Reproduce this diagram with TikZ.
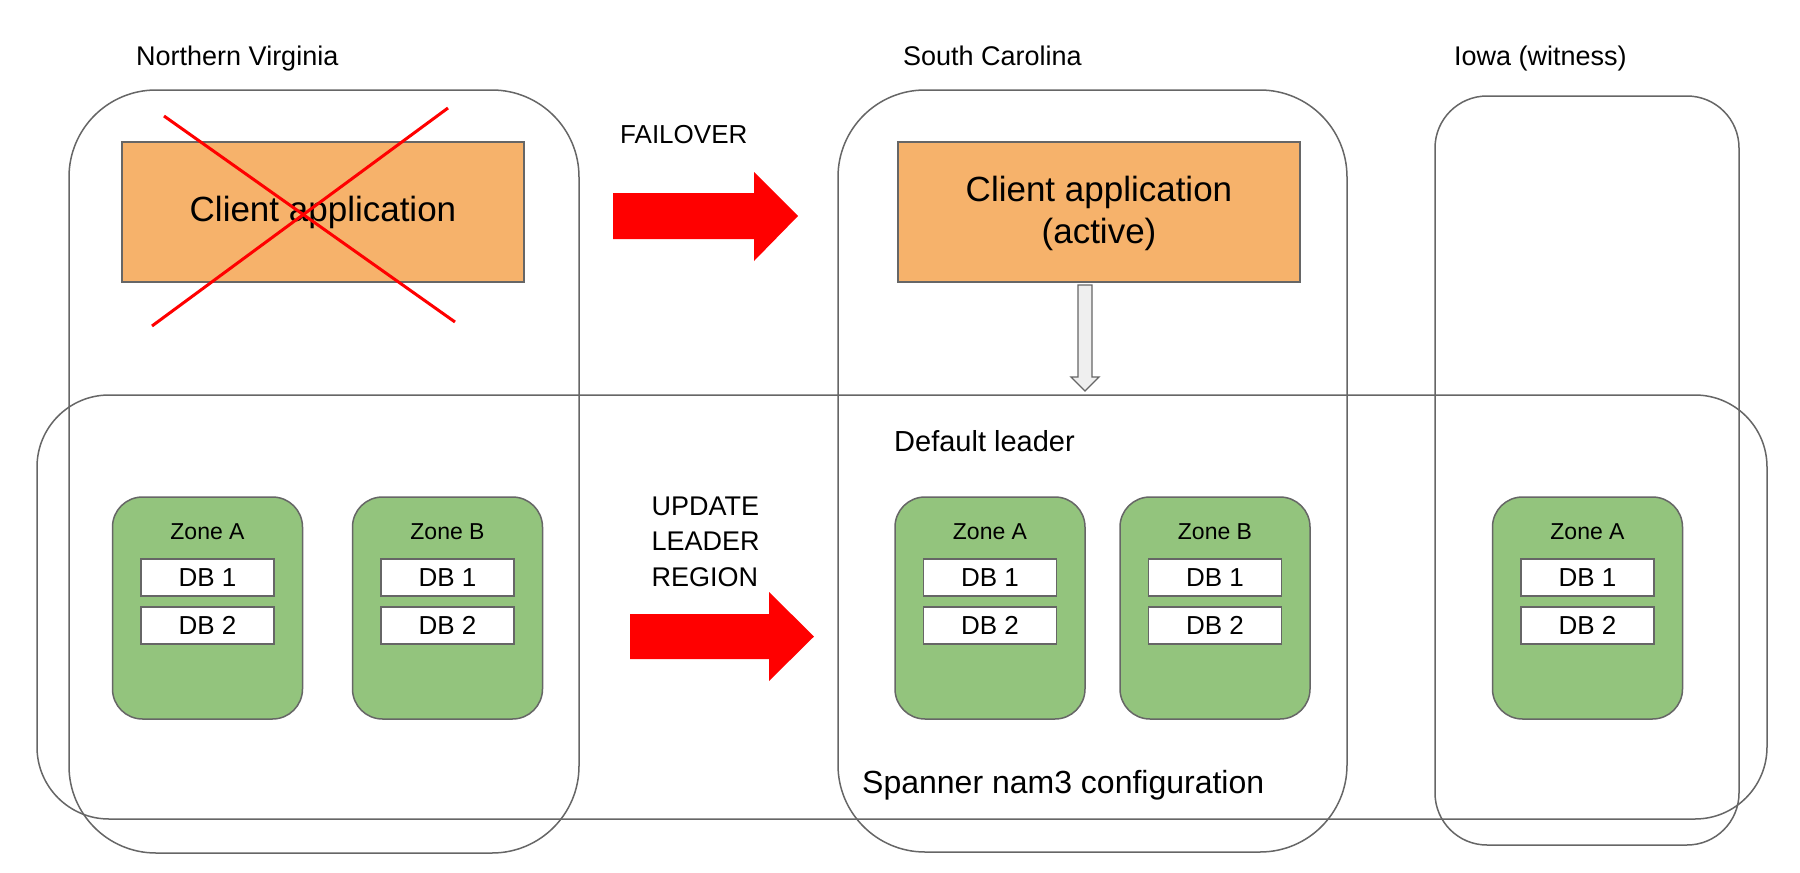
\documentclass[tikz,border=0pt]{standalone}
\usepackage{fontspec}
\setmainfont{Liberation Sans}
\definecolor{appfill}{HTML}{F6B26B}
\definecolor{zonefill}{HTML}{93C47D}
\definecolor{edge}{HTML}{666666}
\definecolor{arrowgray}{HTML}{EFEFEF}
\definecolor{alert}{HTML}{FF0000}
\tikzset{
  region/.style={draw=edge, line width=1.5pt, rounded corners=#1, inner sep=0pt},
  apptext/.style={font=\fontsize{35}{42}\selectfont},
  appbox/.style={draw=edge, line width=1.5pt, fill=appfill, minimum width=402pt, minimum height=140pt, inner sep=0pt, align=center, apptext},
  zonebox/.style={draw=edge, line width=1.5pt, fill=zonefill, rounded corners=30pt, minimum width=190pt, minimum height=222pt, inner sep=0pt},
  dbbox/.style={draw=edge, line width=1.5pt, fill=white, minimum width=133pt, minimum height=37pt, inner sep=0pt, font=\fontsize{26}{30}\selectfont},
  zonelabel/.style={anchor=base, inner sep=0pt, font=\fontsize{23}{27}\selectfont},
  label27/.style={anchor=base west, inner sep=0pt, font=\fontsize{27}{32}\selectfont},
  bigarrow/.style={fill=alert, draw=none},
  crossline/.style={draw=alert, line width=3pt},
}
\begin{document}
\begin{tikzpicture}[x=1pt, y=-1pt]
\useasboundingbox (0,0) rectangle (1800,873);
\fill[white] (0,0) rectangle (1800,873);

% region boxes
\node[region=87pt, minimum width=510pt, minimum height=763pt] (nv) at (324,471.5) {};
\node[region=87pt, minimum width=509pt, minimum height=762pt] (sc) at (1092.5,471) {};
\node[region=52pt, minimum width=304pt, minimum height=749pt] (ia) at (1587,470.5) {};
\node[region=72pt, minimum width=1730pt, minimum height=424pt] (span) at (902,607) {};

% region labels
\node[label27] (nvlab) at (136,65) {Northern Virginia};
\node[label27] (sclab) at (903,65) {South Carolina};
\node[label27] (ialab) at (1454,65) {Iowa (witness)};

% client applications
\node[appbox] (nvapp) at (323,212) {Client application};
\node[appbox, text depth=4pt] (scapp) at (1099,212) {Client application\\(active)};

% red cross
\draw[crossline] (164,116) coordinate (x1a) -- (455,322) coordinate (x1b);
\draw[crossline] (448,108) coordinate (x2a) -- (152,326) coordinate (x2b);

% failover arrow
\node[label27, font=\fontsize{26}{31}\selectfont] (fail) at (620,143) {FAILOVER};
\fill[bigarrow] (613,193) -- (754,193) -- (754,172) -- (798,216) -- (754,261) -- (754,239) -- (613,239) -- cycle;

% update leader arrow
\node[anchor=base west, inner sep=0pt, align=left, font=\fontsize{27}{35.5}\selectfont] (upd) at (651.5,586) {UPDATE\\LEADER\\REGION};
\fill[bigarrow] (630,614) -- (769,614) -- (769,592) -- (814,636.5) -- (769,681) -- (769,659) -- (630,659) -- cycle;

% down arrow from active client to spanner
\draw[draw=edge, line width=1.3pt, fill=arrowgray, line join=miter]
  (1078,285) -- (1092,285) -- (1092,377) -- (1099,377) -- (1085,391) -- (1071,377) -- (1078,377) -- cycle;

% texts in spanner box
\node[anchor=base west, inner sep=0pt, font=\fontsize{29}{34}\selectfont] (deflead) at (894,451) {Default leader};
\node[anchor=base west, inner sep=0pt, font=\fontsize{32}{38}\selectfont] (spanlab) at (862,793) {Spanner nam3 configuration};

% zones
\foreach \nm/\cx/\zl in {nva/207.5/A, nvb/447.5/B, sca/990/A, scb/1215/B, iaa/1587.5/A}{
  \node[zonebox] (\nm) at (\cx,608) {};
  \node[zonelabel] (\nm lab) at (\cx,539) {Zone \zl};
  \node[dbbox] (\nm db1) at (\cx,577.5) {DB 1};
  \node[dbbox] (\nm db2) at (\cx,625.5) {DB 2};
}
\end{tikzpicture}
\end{document}
